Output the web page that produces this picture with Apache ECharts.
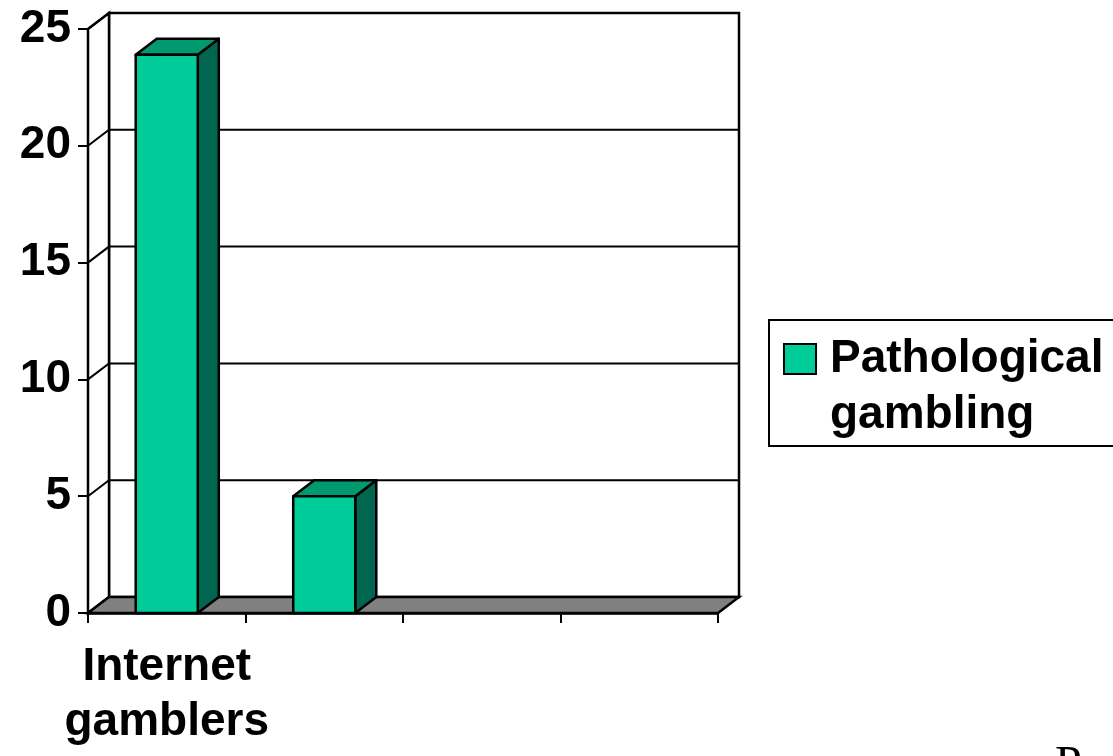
<!DOCTYPE html>
<html><head><meta charset="utf-8">
<script src="https://cdn.jsdelivr.net/npm/echarts@6/dist/echarts.min.js"></script>
<style>html,body{margin:0;padding:0;background:#fff}#c{width:1113px;height:756px}</style>
</head><body><div id="c"></div>
<script>
const categories = ['Internet\ngamblers', '', '', ''];
const seriesName = 'Pathological gambling';
const values = [23.9, 5, 0, 0];
const yTicks = [0, 5, 10, 15, 20, 25];

const DX = 21, DY = -16;
const FRONT = '#00cc99', TOP = '#009970', SIDE = '#006650';

const chart = echarts.init(document.getElementById('c'));

function renderWalls(params, api) {
  const cs = params.coordSys;
  const x0 = cs.x, x1 = cs.x + cs.width;
  const yb = api.coord([0, yTicks[0]])[1];
  const yt = api.coord([0, yTicks[yTicks.length - 1]])[1];
  const ch = [];
  ch.push({type: 'polygon', shape: {points: [[x0 + DX, yt + DY], [x1 + DX, yt + DY], [x1 + DX, yb + DY], [x0 + DX, yb + DY]]},
    style: {fill: '#fff', stroke: '#000', lineWidth: 2.5}});
  ch.push({type: 'polygon', shape: {points: [[x0, yt], [x0 + DX, yt + DY], [x0 + DX, yb + DY], [x0, yb]]},
    style: {fill: '#fff', stroke: '#000', lineWidth: 2.5}});
  yTicks.forEach(v => {
    if (v === yTicks[0]) return;
    const y = api.coord([0, v])[1];
    ch.push({type: 'polyline', shape: {points: [[x0, y], [x0 + DX, y + DY], [x1 + DX, y + DY]]},
      style: {stroke: '#000', lineWidth: 2, fill: null}});
  });
  ch.push({type: 'polygon', shape: {points: [[x0, yb], [x1, yb], [x1 + DX, yb + DY], [x0 + DX, yb + DY]]},
    style: {fill: '#808080', stroke: '#000', lineWidth: 2.5}});
  return {type: 'group', children: ch};
}

function renderBar(params, api) {
  const v = api.value(1);
  if (!v) return null;
  const idx = api.value(0);
  const top = api.coord([idx, v]);
  const base = api.coord([idx, 0]);
  const bw = api.size([1, 0])[0] * 0.394;
  const l = top[0] - bw / 2, r = top[0] + bw / 2, t = top[1], b = base[1];
  const st = {stroke: '#000', lineWidth: 2.5, lineJoin: 'round'};
  return {type: 'group', children: [
    {type: 'polygon', shape: {points: [[r, t], [r + DX, t + DY], [r + DX, b + DY], [r, b]]}, style: Object.assign({fill: SIDE}, st)},
    {type: 'polygon', shape: {points: [[l, t], [l + DX, t + DY], [r + DX, t + DY], [r, t]]}, style: Object.assign({fill: TOP}, st)},
    {type: 'rect', shape: {x: l, y: t, width: bw, height: b - t}, style: Object.assign({fill: FRONT}, st)}
  ]};
}

chart.setOption({
  animation: false,
  backgroundColor: '#fff',
  grid: {left: 88, right: 395, top: 29, bottom: 143},
  xAxis: {
    type: 'category', data: categories, boundaryGap: true,
    axisLine: {show: true, lineStyle: {color: '#000', width: 2.5}},
    axisTick: {show: true, length: 10, alignWithLabel: false, interval: 0, lineStyle: {color: '#000', width: 2}},
    axisLabel: {interval: 0, color: '#000', fontFamily: 'Liberation Sans', fontWeight: 'bold', fontSize: 46, lineHeight: 55, margin: 27},
    splitLine: {show: false}
  },
  yAxis: {
    type: 'value', min: 0, max: 25, interval: 5,
    axisLine: {show: true, lineStyle: {color: '#000', width: 2.5}},
    axisTick: {show: true, length: 10, lineStyle: {color: '#000', width: 2}},
    axisLabel: {color: '#000', fontFamily: 'Liberation Sans', fontWeight: 'bold', fontSize: 46, margin: 17},
    splitLine: {show: false}
  },
  series: [
    {type: 'custom', name: 'walls', silent: true, z: 1, renderItem: renderWalls, data: [[0, 0]], encode: {x: 0, y: 1}},
    {type: 'custom', name: seriesName, z: 3, renderItem: renderBar, data: values.map((v, i) => [i, v]), encode: {x: 0, y: 1}}
  ],
  graphic: [
    {type: 'rect', left: 768, top: 319, shape: {width: 400, height: 126}, style: {fill: '#fff', stroke: '#000', lineWidth: 2}, z: 10},
    {type: 'rect', left: 783, top: 343, shape: {width: 32, height: 30}, style: {fill: FRONT, stroke: '#000', lineWidth: 2}, z: 11},
    {type: 'text', x: 830, y: 331, z: 11, style: {text: 'Pathological\ngambling', fill: '#000', font: 'bold 46px "Liberation Sans"', lineHeight: 56, verticalAlign: 'top', align: 'left'}},
    {type: 'text', x: 1055, y: 766, z: 11, style: {text: 'P', fill: '#000', font: '48px "Liberation Serif"', verticalAlign: 'middle', align: 'left'}}
  ]
});
</script>
</body></html>
